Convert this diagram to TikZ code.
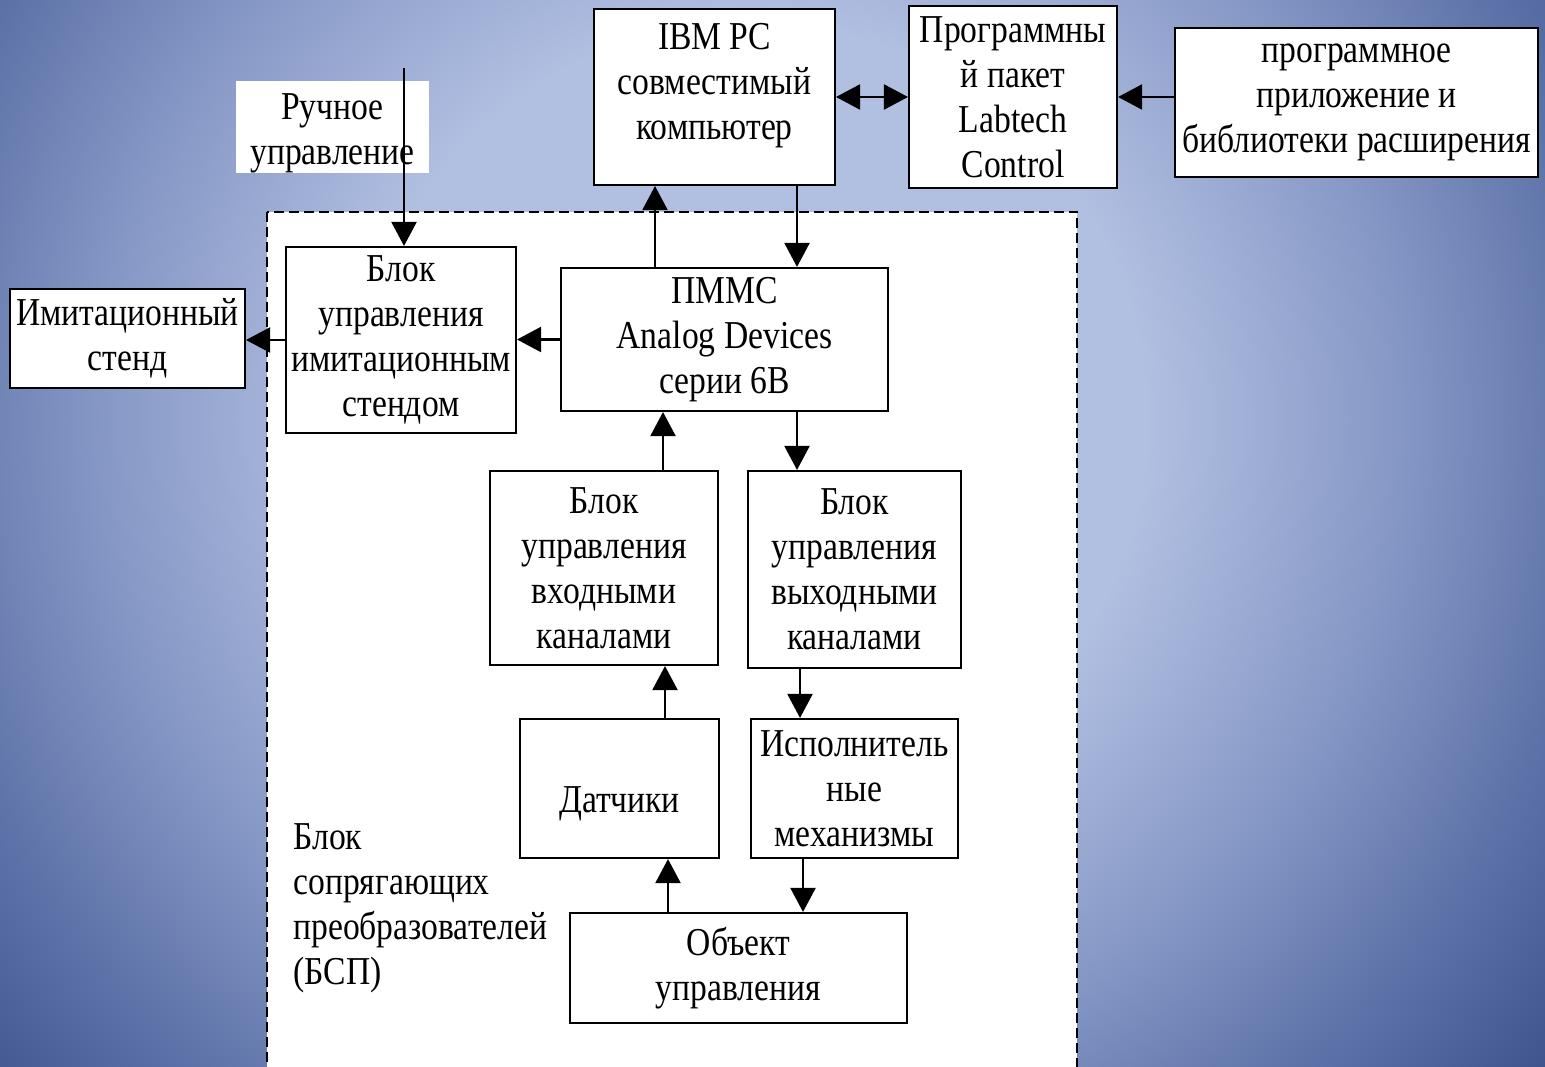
\documentclass[tikz,border=0pt]{standalone}
\usepackage{fontspec}
\setmainfont{Liberation Serif}[FakeStretch=0.85]
\usetikzlibrary{arrows.meta,calc}
\definecolor{bglight}{HTML}{B1BFE1}
\definecolor{bgmid}{HTML}{8597C5}
\definecolor{bgdeep}{HTML}{5D72A8}
\definecolor{bgdark}{HTML}{3A4F88}
\pgfdeclareradialshading{bgshade}{\pgfpoint{0bp}{0bp}}{color(0bp)=(bglight); color(9bp)=(bglight); color(14.8bp)=(bgmid); color(19.3bp)=(bgdeep); color(24bp)=(bgdark); color(50bp)=(bgdark)}
\tikzset{
  blk/.style={draw=black, fill=white, line width=1.2pt, inner sep=0pt, align=center, font=\fontsize{22.5}{25.6}\selectfont},
  txt/.style={inner sep=0pt, align=center, font=\fontsize{22.5}{25.6}\selectfont},
  arr/.style={line width=1.2pt, ->},
  >={Triangle[length=0.48cm,width=0.5cm]}
}
\begin{document}
\begin{tikzpicture}[x=0.02cm,y=-0.02cm]
\useasboundingbox (0,0) rectangle (1545,1067);
\begin{scope}
\clip (0,0) rectangle (1545,1067);
\shade[shading=bgshade] (-350,-680) rectangle (1850,1520);
\end{scope}
% dashed frame of the BSP
\draw[fill=white, line width=1pt, dash pattern=on 0.2cm off 0.1cm] (267,212) rectangle (1077,1090);
\node[txt, align=left, anchor=west, inner sep=4pt] (bsp) at (286,908) {Блок\\сопрягающих\\преобразователей\\(БСП)};
% top row
\node[fill=white, inner sep=0pt, minimum width=3.86cm, minimum height=1.84cm] (ruch) at (332.5,127) {};
\node[txt] (ruchtxt) at (332.5,133) {Ручное\\управление};
\node[blk, minimum width=4.82cm, minimum height=3.52cm] (ibm) at (714.5,97) {};
\node[txt] (ibmtxt) at (714.5,86) {IBM PC\\совместимый\\компьютер};
\node[blk, minimum width=4.16cm, minimum height=3.64cm] (prog) at (1013,97) {Программны\\й пакет\\Labtech\\Control};
\node[blk, minimum width=7.26cm, minimum height=2.98cm] (lib) at (1356.5,102.5) {программное\\приложение и\\библиотеки расширения};
% inside the frame
\node[blk, minimum width=4.6cm, minimum height=3.72cm] (blokim) at (401,340) {Блок\\управления\\имитационным\\стендом};
\node[blk, minimum width=4.7cm, minimum height=1.98cm] (imit) at (127.5,338.5) {Имитационный\\стенд};
\node[blk, minimum width=6.54cm, minimum height=2.86cm] (pmms) at (724.5,339.5) {ПММС\\Analog Devices\\серии 6В};
\node[blk, minimum width=4.56cm, minimum height=3.88cm] (vhod) at (604,568) {Блок\\управления\\входными\\каналами};
\node[blk, minimum width=4.26cm, minimum height=3.94cm] (vyhod) at (854.5,569.5) {Блок\\управления\\выходными\\каналами};
\node[blk, minimum width=3.98cm, minimum height=2.78cm] (datch) at (619.5,788.5) {};
\node[txt] (datchtxt) at (619.5,804) {Датчики};
\node[blk, minimum width=4.14cm, minimum height=2.78cm] (isp) at (854.5,788.5) {Исполнитель\\ные\\механизмы};
\node[blk, minimum width=6.74cm, minimum height=2.2cm] (obj) at (738.5,968) {Объект\\управления};
% start points of the vertical connectors
\coordinate (ruchin) at (404,68);
\coordinate (pmmsup) at ($(pmms.north)+(-69.5,0)$);
\coordinate (ibmdn) at ($(ibm.south)+(82.5,0)$);
\coordinate (vhodup) at ($(vhod.north)+(59,0)$);
\coordinate (pmmsdn) at ($(pmms.south)+(72.5,0)$);
\coordinate (datchup) at ($(datch.north)+(45.5,0)$);
\coordinate (vyhoddn) at ($(vyhod.south)+(-54.5,0)$);
\coordinate (objup) at ($(obj.north)+(-70.5,0)$);
\coordinate (ispdn) at ($(isp.south)+(-51.5,0)$);
% connectors
\draw[arr] (ruchin) -- (ruchin |- blokim.north);
\draw[line width=1.2pt, <->] (ibm.east) -- (prog.west);
\draw[arr] (lib.west |- ibm.east) -- (prog.east |- ibm.east);
\draw[arr] (blokim.west) -- (blokim.west -| imit.east);
\draw[arr] (pmms.west) -- (pmms.west -| blokim.east);
\draw[arr] (pmmsup) -- (pmmsup |- ibm.south);
\draw[arr] (ibmdn) -- (ibmdn |- pmms.north);
\draw[arr] (vhodup) -- (vhodup |- pmms.south);
\draw[arr] (pmmsdn) -- (pmmsdn |- vyhod.north);
\draw[arr] (datchup) -- (datchup |- vhod.south);
\draw[arr] (vyhoddn) -- (vyhoddn |- isp.north);
\draw[arr] (objup) -- (objup |- datch.south);
\draw[arr] (ispdn) -- (ispdn |- obj.north);
\end{tikzpicture}
\end{document}
